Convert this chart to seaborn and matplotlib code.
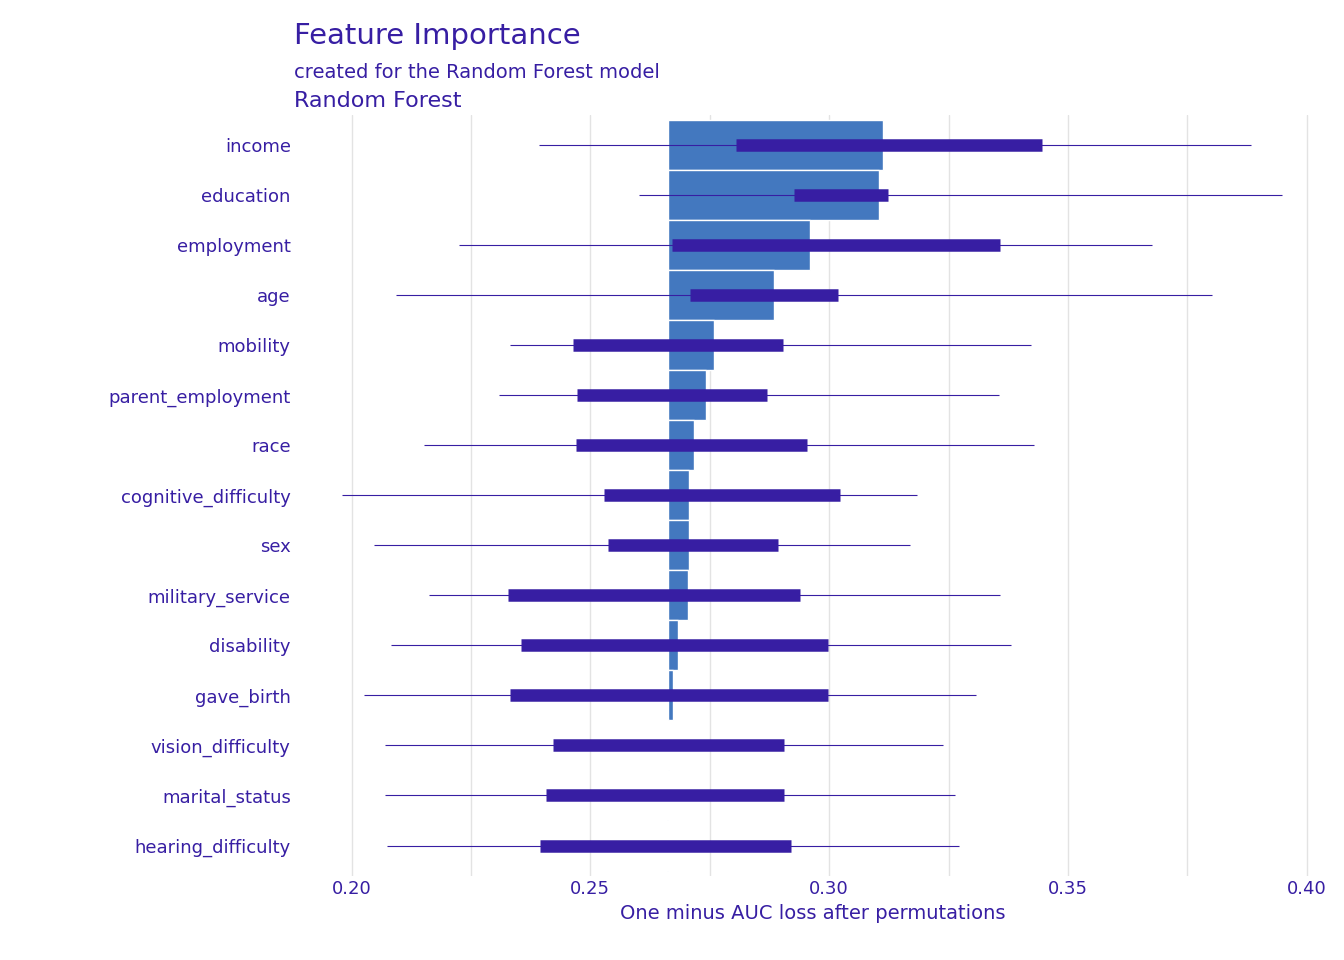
import numpy as np
import pandas as pd
import matplotlib.pyplot as plt
import seaborn as sns

# Permutation importance for the Random Forest model
data = {
    'variable': ['income', 'education', 'employment', 'age', 'mobility', 'parent_employment',
                 'race', 'cognitive_difficulty', 'sex', 'military_service', 'disability',
                 'gave_birth', 'vision_difficulty', 'marital_status', 'hearing_difficulty'],
    'mean': [0.3112, 0.3104, 0.2959, 0.2884, 0.2758, 0.2743, 0.2718, 0.2706, 0.2706,
             0.2704, 0.2683, 0.2674, 0.2664, 0.2662, 0.2660],
    'min': [0.2392, 0.2601, 0.2226, 0.2094, 0.2331, 0.2308, 0.2151, 0.1979, 0.2046,
            0.2163, 0.2082, 0.2027, 0.2071, 0.2071, 0.2075],
    'q1': [0.2806, 0.2926, 0.2670, 0.2708, 0.2463, 0.2473, 0.2471, 0.2528, 0.2536,
           0.2327, 0.2354, 0.2331, 0.2421, 0.2408, 0.2394],
    'q3': [0.3445, 0.3123, 0.3357, 0.3018, 0.2903, 0.2869, 0.2953, 0.3022, 0.2892,
           0.2938, 0.2997, 0.2997, 0.2905, 0.2905, 0.2921],
    'max': [0.3883, 0.3948, 0.3677, 0.3801, 0.3422, 0.3355, 0.3430, 0.3183, 0.3169,
            0.3357, 0.3380, 0.3307, 0.3238, 0.3263, 0.3271],
}
df = pd.DataFrame(data)
baseline = 0.2662  # full model loss

sns.set_theme(style="whitegrid")
plt.rcParams['font.family'] = ['DejaVu Sans']
text_col = '#371ea3'

fig = plt.figure(figsize=(13.44, 9.6), dpi=100)
ax = fig.add_axes([0.22, 0.088, 0.77, 0.792])

pos = np.arange(len(df))
ax.barh(pos, df['mean'] - baseline, left=baseline, height=1.0, color='#4378bf')  # bars from baseline
ax.hlines(pos, df['min'], df['max'], color=text_col, linewidth=0.8)  # whiskers
ax.hlines(pos, df['q1'], df['q3'], color=text_col, linewidth=9)  # boxes

ax.set_yticks(pos)
ax.set_yticklabels(df['variable'])
ax.set_ylim(len(df) - 0.4, -0.6)
ax.set_xlim(0.1883, 0.405)
ax.set_xticks([0.20, 0.25, 0.30, 0.35, 0.40])
ax.set_xticks([0.225, 0.275, 0.325, 0.375], minor=True)
ax.set_xticklabels(['0.20', '0.25', '0.30', '0.35', '0.40'])
ax.grid(axis='x', which='both', color='#e3e3e3', linewidth=1)
ax.grid(axis='y', visible=False)
ax.tick_params(axis='both', labelsize=13, colors=text_col, length=0)
ax.set_xlabel("One minus AUC loss after permutations", fontsize=14, color=text_col)
for s in ax.spines.values():
    s.set_visible(False)

fig.text(0.219, 0.962, "Feature Importance", fontsize=21, color=text_col, va='center')
fig.text(0.219, 0.925, "created for the Random Forest model", fontsize=14, color=text_col, va='center')
fig.text(0.219, 0.895, "Random Forest", fontsize=16, color=text_col, va='center')

plt.savefig("out.png", dpi=100)
